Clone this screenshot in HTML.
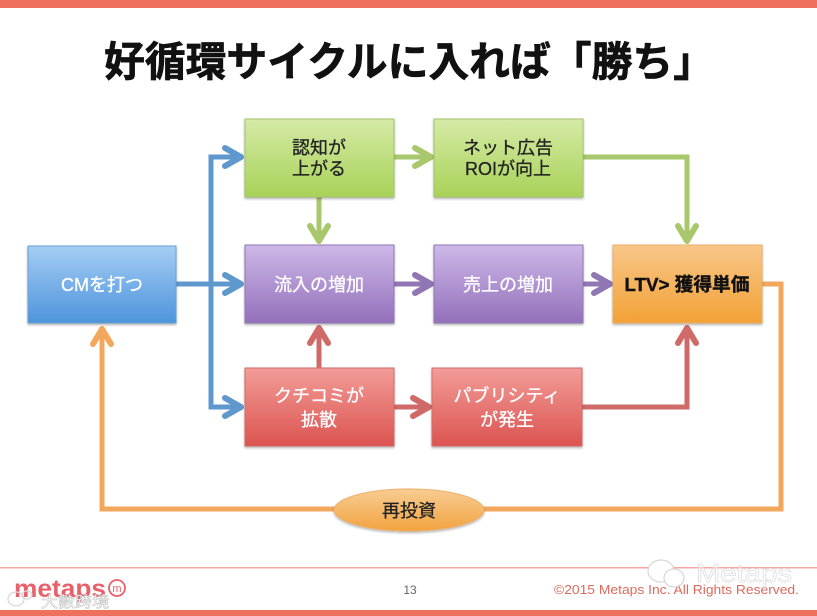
<!DOCTYPE html>
<html><head><meta charset="utf-8">
<style>
html,body{margin:0;padding:0;background:#fff}
svg{display:block;filter:blur(.35px)}
text{font-family:"Liberation Sans","Noto Sans CJK JP",sans-serif}
.h{stroke-width:6;stroke-linejoin:round}
</style></head>
<body>
<svg width="817" height="616" viewBox="0 0 817 616" xmlns="http://www.w3.org/2000/svg">
<defs>
<linearGradient id="b" x1="0" y1="0" x2="0" y2="1"><stop offset="0" stop-color="#a5cdf4"/><stop offset="1" stop-color="#4d94dc"/></linearGradient>
<linearGradient id="g" x1="0" y1="0" x2="0" y2="1"><stop offset="0" stop-color="#d5eaa6"/><stop offset="1" stop-color="#a8d258"/></linearGradient>
<linearGradient id="p" x1="0" y1="0" x2="0" y2="1"><stop offset="0" stop-color="#cdb8e8"/><stop offset="1" stop-color="#9470bb"/></linearGradient>
<linearGradient id="r" x1="0" y1="0" x2="0" y2="1"><stop offset="0" stop-color="#f29c98"/><stop offset="1" stop-color="#dc5450"/></linearGradient>
<linearGradient id="o" x1="0" y1="0" x2="0" y2="1"><stop offset="0" stop-color="#f7c788"/><stop offset="1" stop-color="#f3a136"/></linearGradient>
<linearGradient id="e" x1="0" y1="0" x2="0" y2="1"><stop offset="0" stop-color="#f8cd92"/><stop offset="1" stop-color="#f2a340"/></linearGradient>
<filter id="s" x="-5%" y="-5%" width="110%" height="115%"><feDropShadow dx="0" dy="1.5" stdDeviation="1.2" flood-color="#000" flood-opacity=".3"/></filter>
</defs>
<rect x="0" y="0" width="817" height="8" fill="#f0705f"/>
<text x="104" y="76" font-size="41" font-weight="700" fill="#111" stroke="#111" stroke-width=".7" textLength="610" lengthAdjust="spacingAndGlyphs">好循環サイクルに入れば「勝ち」</text>

<g fill="none" stroke-width="5" stroke-linecap="round" stroke-linejoin="miter">
<g stroke="#5f98cc">
<path d="M176 284H240"/><path d="M211 407V157H240"/><path d="M211 284V407H240"/>
<path class="h" d="M225 148L241 157L225 166"/><path class="h" d="M225 275L241 284L225 293"/><path class="h" d="M225 398L241 407L225 416"/>
</g>
<g stroke="#a9c76c">
<path d="M394 157H428"/><path class="h" d="M415 148L431 157L415 166"/>
<path d="M319 197V240"/><path class="h" d="M310 226L319 241L328 226"/>
<path d="M583 157H687V240"/><path class="h" d="M678 226L687 241L696 226"/>
</g>
<g stroke="#9077b4">
<path d="M394 284H428"/><path class="h" d="M415 275L431 284L415 293"/>
<path d="M583 284H608"/><path class="h" d="M594 275L610 284L594 293"/>
</g>
<g stroke="#cf6a68">
<path d="M319 368V330"/><path class="h" d="M310 343L319 328L328 343"/>
<path d="M394 407H426"/><path class="h" d="M413 398L429 407L413 416"/>
<path d="M582 407H687V330"/><path class="h" d="M678 343L687 328L696 343"/>
</g>
<g stroke="#f2a75c">
<path d="M762 284H781V509H102V330"/><path class="h" d="M93 344L102 329L111 344"/>
</g>
</g>

<g stroke-width="1" filter="url(#s)">
<rect x="28" y="246" width="148" height="77" fill="url(#b)" stroke="#6c9fd2"/>
<rect x="245" y="119" width="149" height="78" fill="url(#g)" stroke="#a5c46c"/>
<rect x="434" y="119" width="149" height="78" fill="url(#g)" stroke="#a5c46c"/>
<rect x="245" y="245" width="149" height="78" fill="url(#p)" stroke="#8f78b4"/>
<rect x="434" y="245" width="149" height="78" fill="url(#p)" stroke="#8f78b4"/>
<rect x="613" y="245" width="149" height="78" fill="url(#o)" stroke="#eeb06a"/>
<rect x="245" y="368" width="149" height="78" fill="url(#r)" stroke="#d26c68"/>
<rect x="432" y="368" width="150" height="78" fill="url(#r)" stroke="#d26c68"/>
<ellipse cx="409" cy="510" rx="75" ry="21" fill="url(#e)" stroke="#eeb06a"/>
</g>

<g font-size="18" text-anchor="middle" stroke-width=".3">
<text x="102" y="291" fill="#fff" stroke="#fff">CMを打つ</text>
<text x="319" y="154" fill="#222" stroke="#222">認知が</text>
<text x="319" y="175" fill="#222" stroke="#222">上がる</text>
<text x="508" y="154" fill="#222" stroke="#222">ネット広告</text>
<text x="508" y="175" fill="#222" stroke="#222">ROIが向上</text>
<text x="319" y="291" fill="#fff" stroke="#fff">流入の増加</text>
<text x="508" y="291" fill="#fff" stroke="#fff">売上の増加</text>
<text x="687" y="291" fill="#111" stroke="#111" stroke-width=".4" font-weight="700" font-size="18.5" textLength="125" lengthAdjust="spacingAndGlyphs">LTV&gt; 獲得単価</text>
<text x="319" y="402" fill="#fff" stroke="#fff">クチコミが</text>
<text x="319" y="426" fill="#fff" stroke="#fff">拡散</text>
<text x="507" y="402" fill="#fff" stroke="#fff">パブリシティ</text>
<text x="507" y="426" fill="#fff" stroke="#fff">が発生</text>
<text x="409" y="517" fill="#222" stroke="#222">再投資</text>
</g>

<rect x="0" y="567" width="817" height="1.5" fill="#f7a7a2"/>
<text x="14" y="597" font-size="25" font-weight="700" fill="#e8606a" textLength="92" lengthAdjust="spacingAndGlyphs">metaps</text>
<circle cx="117" cy="588" r="8" fill="none" stroke="#e8606a" stroke-width="1.8"/>
<text x="117" y="592" font-size="11" text-anchor="middle" fill="#e8606a">m</text>
<text x="410" y="594" font-size="12" text-anchor="middle" fill="#666">13</text>
<text x="799" y="594" font-size="13" text-anchor="end" fill="#dc6a5c" textLength="245" lengthAdjust="spacingAndGlyphs">©2015 Metaps Inc. All Rights Reserved.</text>

<g fill="none" stroke="#d6d6d6" stroke-width="1.2">
<ellipse cx="661" cy="571" rx="13" ry="11" fill="#fff"/>
<ellipse cx="674" cy="578" rx="10" ry="9" fill="#fff"/>
<ellipse cx="16" cy="599" rx="8" ry="7"/>
<ellipse cx="27" cy="595" rx="5" ry="4"/>
</g>
<text x="696" y="582" font-size="26" fill="#fff" fill-opacity=".5" stroke="#cfcfcf" stroke-width=".5" textLength="96" lengthAdjust="spacingAndGlyphs">Metaps</text>
<text x="41" y="607" font-size="15" fill="#fff" stroke="#c0c0c0" stroke-width=".5" textLength="68" lengthAdjust="spacingAndGlyphs">大數跨境</text>
<rect x="0" y="610" width="817" height="6" fill="#ee705e"/>
</svg>
</body></html>
